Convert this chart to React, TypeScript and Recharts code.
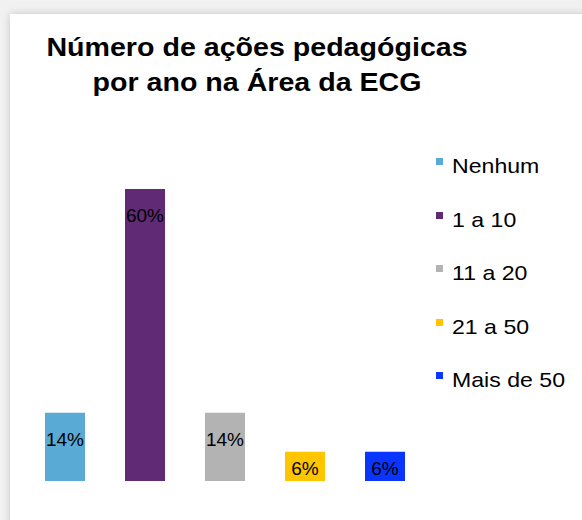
import React from "react";
import { BarChart, Bar, XAxis, YAxis, Cell, LabelList } from "recharts";

const categories = ["Nenhum", "1 a 10", "11 a 20", "21 a 50", "Mais de 50"];
const percentages = [14, 60, 14, 6, 6];
const colors = ["#5aaad6", "#612a74", "#b3b3b3", "#ffc600", "#0a35ff"];
const titleLines = ["Número de ações pedagógicas", "por ano na Área da ECG"];

const data = categories.map((c, i) => ({ name: c, value: percentages[i] }));

const FONT = '"Liberation Sans", Arial, Helvetica, sans-serif';

const renderLabel = (props: any) => {
  const { x, y, width, height, value } = props;
  const cx = Number(x) + Number(width) / 2;
  const h = Number(height);
  const center = Number(y) + Math.min(26, h / 2 + 1.5);
  return (
    <text
      x={cx}
      y={center + 7}
      textAnchor="middle"
      fontFamily={FONT}
      fontSize={19}
      fill="#000"
    >
      {`${value}%`}
    </text>
  );
};

export default function App() {
  return (
    <div
      style={{
        position: "absolute",
        left: 0,
        top: 0,
        width: 582,
        height: 520,
        overflow: "hidden",
        background: "#f1f1f1",
        fontFamily: FONT,
      }}
    >
      <div
        style={{
          position: "absolute",
          left: 10,
          top: 14,
          width: 600,
          height: 540,
          background: "#ffffff",
          boxShadow: "0 0 8px rgba(0,0,0,0.18)",
        }}
      />
      <div
        style={{
          position: "absolute",
          left: 0,
          top: 29.5,
          width: 514,
          textAlign: "center",
          fontWeight: "bold",
          fontSize: 26,
          lineHeight: "35px",
          color: "#000",
          transform: "scaleX(1.1)",
          transformOrigin: "257px 0",
        }}
      >
        {titleLines.map((l, i) => (
          <div key={i}>{l}</div>
        ))}
      </div>
      <div style={{ position: "absolute", left: 0, top: 0 }}>
        <BarChart
          width={582}
          height={520}
          data={data}
          margin={{ top: 189, right: 157, bottom: 39, left: 25 }}
          barSize={40}
        >
          <XAxis dataKey="name" hide />
          <YAxis hide domain={[0, 60]} />
          <Bar dataKey="value" isAnimationActive={false}>
            {data.map((d, i) => (
              <Cell key={d.name} fill={colors[i]} />
            ))}
            <LabelList dataKey="value" content={renderLabel} />
          </Bar>
        </BarChart>
      </div>
      <div style={{ position: "absolute", left: 436, top: 0 }}>
        {categories.map((c, i) => (
          <div
            key={c}
            style={{
              position: "absolute",
              left: 0,
              top: 153.2 + i * 53.5,
              whiteSpace: "nowrap",
              fontSize: 21,
              lineHeight: "25px",
              color: "#000",
            }}
          >
            <span
              style={{
                position: "absolute",
                left: 0,
                top: 5,
                width: 7,
                height: 7,
                background: colors[i],
              }}
            />
            <span
              style={{
                position: "absolute",
                left: 16,
                top: 0,
                transform: "scaleX(1.1)",
                transformOrigin: "0 0",
              }}
            >
              {c}
            </span>
          </div>
        ))}
      </div>
    </div>
  );
}
